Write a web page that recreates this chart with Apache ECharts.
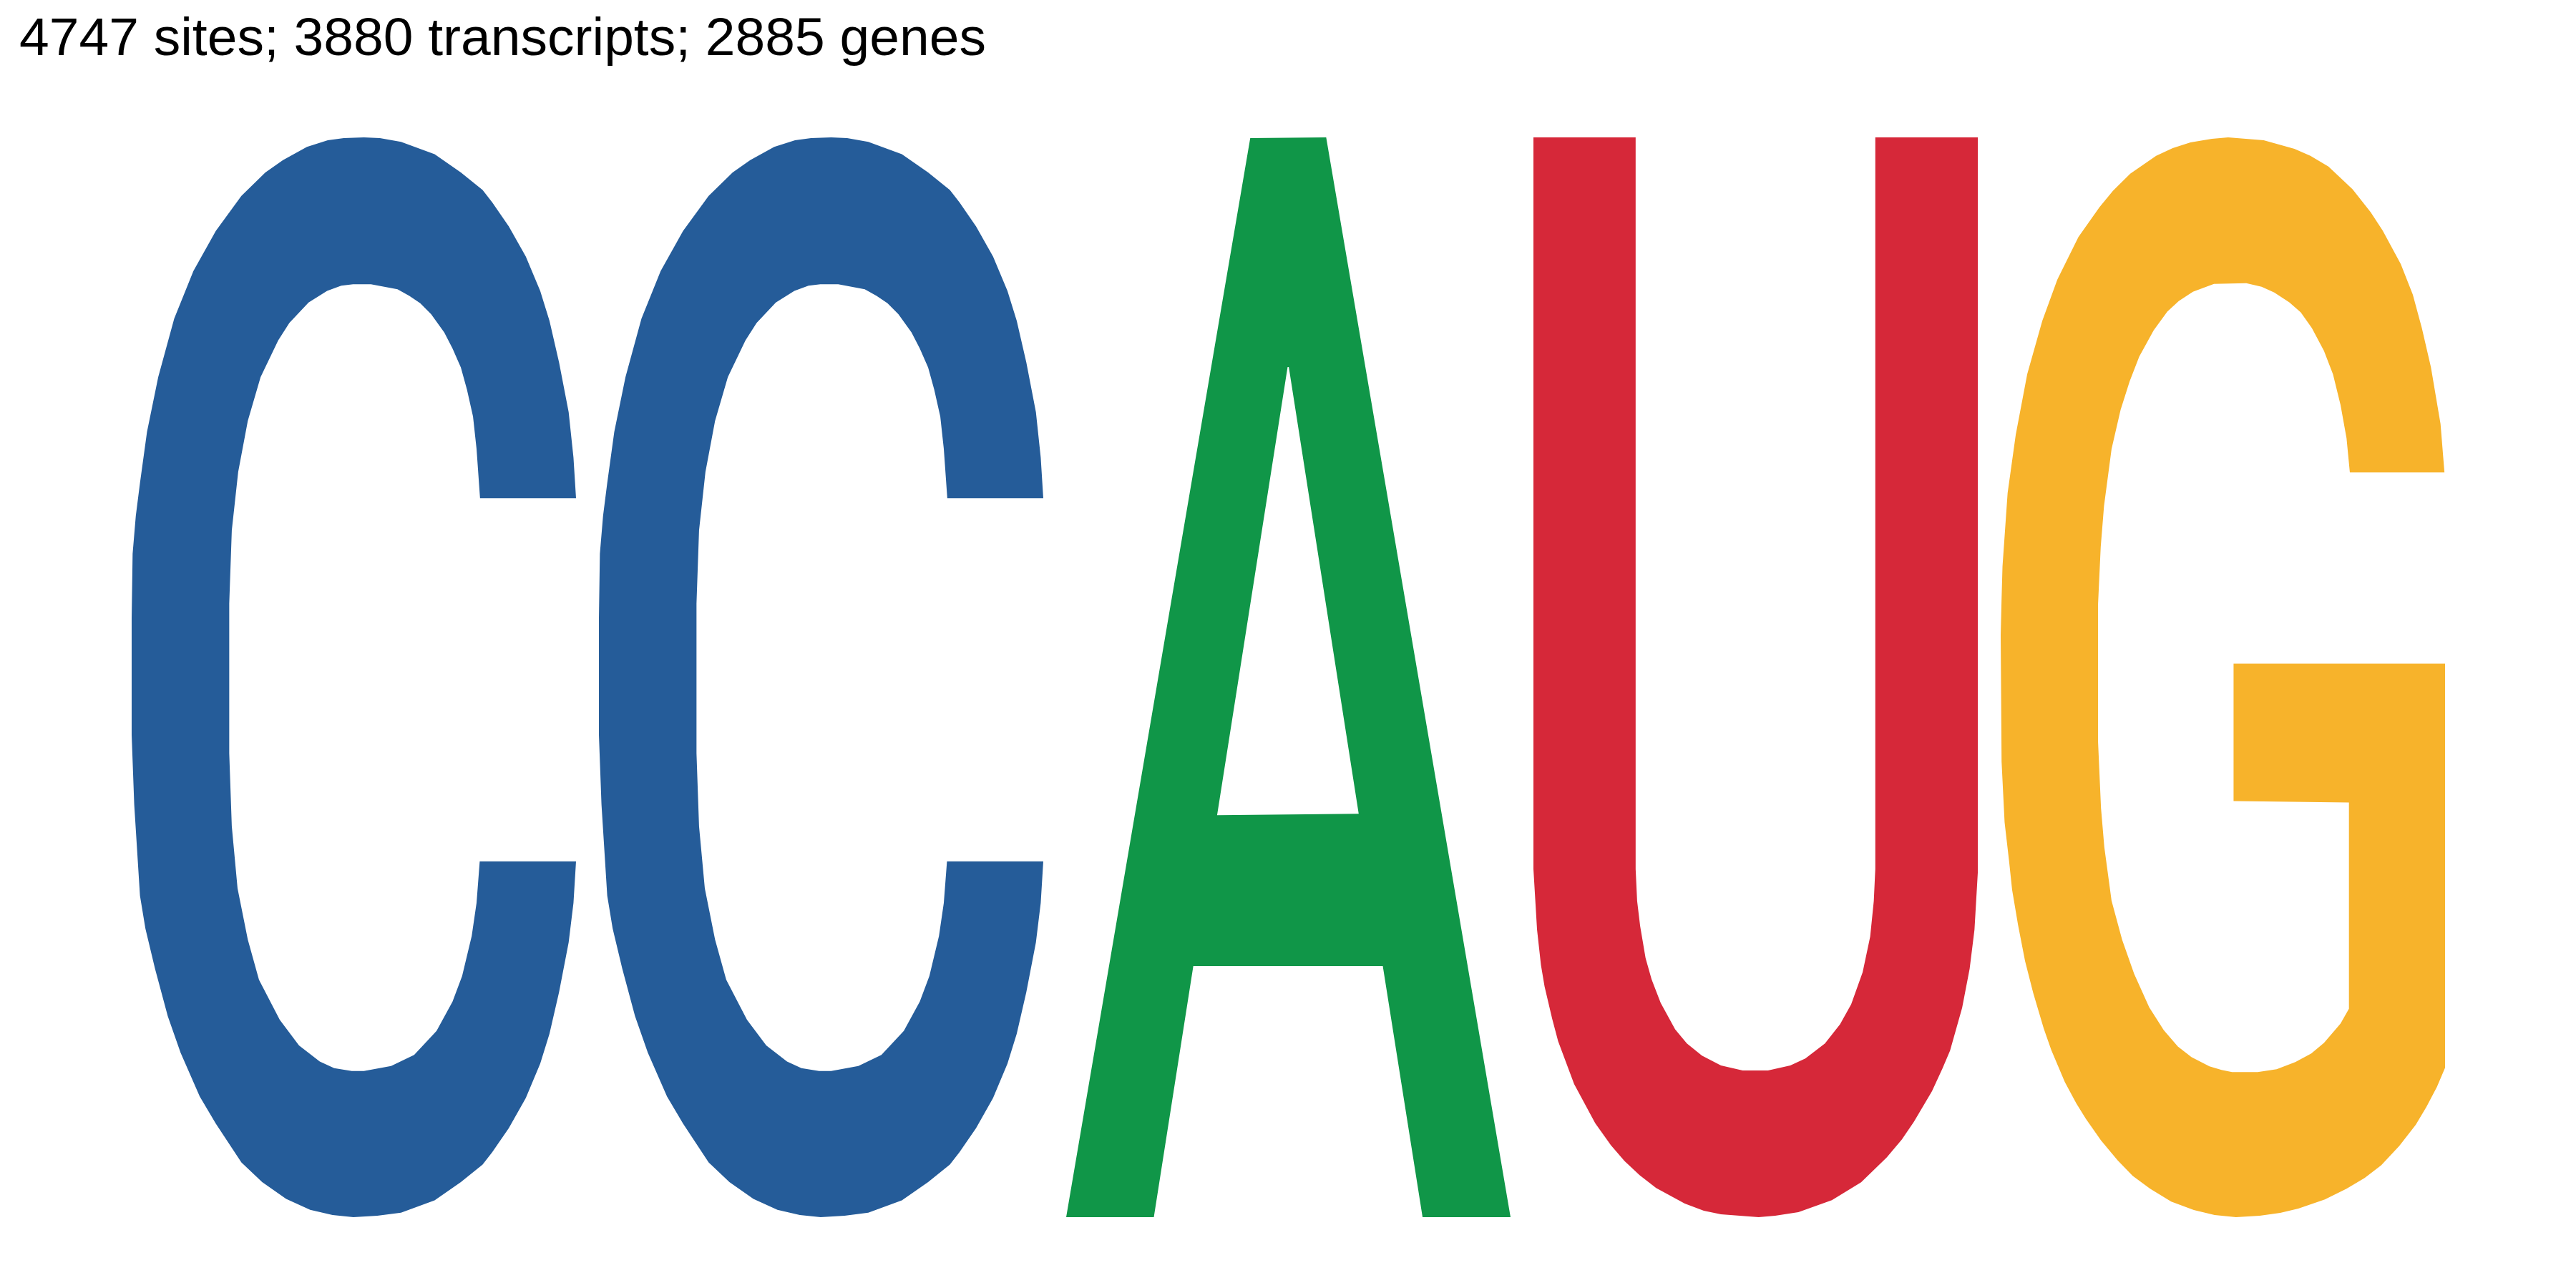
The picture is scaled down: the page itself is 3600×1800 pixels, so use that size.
<!DOCTYPE html>
<html>
<head>
<meta charset="utf-8">
<script src="https://cdn.jsdelivr.net/npm/echarts@6/dist/echarts.min.js"></script>
<style>
  html, body { margin: 0; padding: 0; background: #fff; }
  #logo { width: 3600px; height: 1800px; }
</style>
</head>
<body>
<div id="logo"></div>
<script>
// sequence logo data (probability per position)
var positions = [1, 2, 3, 4, 5];
var letters = ["C", "C", "A", "U", "G"];
var probs = [1, 1, 1, 1, 1];
var titleText = "4747 sites; 3880 transcripts; 2885 genes";

// nucleotide colours
var colors = { A: "#109648", C: "#255C99", G: "#F7B32B", U: "#D62839" };

// glyph outlines, stretched to the letter box when drawn
function poly(pts) {
  var s = "";
  for (var i = 0; i < pts.length; i += 2) {
    s += (i === 0 ? "M" : "L") + pts[i] + "," + pts[i + 1];
  }
  return s + "Z";
}

var glyphs = {
  C: poly([803,42, 853,43, 919,48, 1024,65, 1106,90, 1174,114, 1204,131, 1256,164, 1309,205, 1354,252, 1383,293,
    1413,350, 1443,418, 1458,480, 1466,536,
    1166,536, 1155,468, 1144,424, 1125,387, 1106,357, 1080,331, 1054,309, 1013,284, 979,269, 945,259, 908,250,
    825,243, 769,243, 732,245, 688,252,
    630,268, 570,296, 535,320, 480,370, 440,430, 410,500, 390,580, 382,680, 382,885, 390,985, 408,1070, 440,1140,
    475,1195, 540,1250, 600,1285, 665,1307, 710,1316, 765,1320, 803,1320, 888,1313, 960,1298, 1030,1265, 1080,1225,
    1110,1190, 1140,1135, 1155,1090, 1165,1033,
    1466,1033, 1458,1090, 1443,1144, 1413,1212, 1383,1269, 1354,1310, 1309,1357, 1256,1398, 1204,1431, 1174,1448,
    1106,1472, 1024,1497, 919,1514, 845,1518, 770,1520,
    705,1517, 635,1510, 560,1495, 485,1472, 420,1445, 340,1392, 290,1355, 230,1295, 190,1245, 150,1180, 120,1125,
    103,1080, 85,955, 77,860, 77,700, 80,612, 90,560, 103,515, 125,445, 160,370, 210,290, 270,225, 340,170, 420,122,
    495,90, 550,73, 625,55, 690,46, 740,43]),
  A: poly([22,1540, 633,23, 885,22, 1497,1540, 1205,1540, 1073,1187, 444,1187, 313,1540]) +
     poly([523,975, 993,973, 761,345, 757,345]),
  U: poly([18,22, 357,22, 357,1050, 362,1095, 372,1130, 390,1175, 410,1205, 440,1238, 488,1275, 527,1295, 577,1312,
    640,1326, 712,1333, 796,1333, 870,1326, 920,1316, 985,1295, 1035,1268, 1072,1240, 1110,1195, 1135,1145,
    1147,1095, 1152,1050, 1152,22, 1492,22, 1492,1055, 1481,1135, 1465,1190, 1440,1245, 1400,1305, 1375,1330,
    1340,1362, 1280,1405, 1240,1430, 1190,1455, 1105,1490, 1008,1515, 897,1532, 820,1537, 765,1539, 640,1535,
    583,1530, 520,1520, 425,1498, 370,1480, 320,1460, 275,1438, 223,1407, 153,1352, 100,1292, 80,1260, 55,1215,
    43,1185, 30,1135, 18,1050]),
  G: poly([767,22, 885,26, 987,38, 1040,48, 1100,63, 1180,95, 1240,127, 1280,153, 1340,200, 1380,243, 1410,290,
    1440,345, 1460,395, 1472,425, 1485,493, 1171,493, 1160,445, 1140,398, 1115,355, 1085,322, 1045,290, 1008,268,
    970,254, 920,240, 878,232, 827,227, 720,228, 650,239, 603,252, 565,267, 520,293, 472,330, 440,365, 410,405,
    380,460, 355,540, 344,598, 335,680, 335,870, 345,965, 356,1020, 380,1095, 415,1150, 455,1198, 505,1245,
    553,1277, 600,1300, 645,1315, 705,1328, 745,1333, 780,1336, 865,1336, 928,1332, 990,1322, 1043,1310,
    1085,1295, 1140,1268, 1168,1247, 1168,957, 785,955, 785,762, 1487,762, 1487,1330, 1460,1357, 1425,1385,
    1390,1410, 1335,1440, 1275,1467, 1220,1485, 1160,1500, 1088,1515, 1000,1528, 940,1534, 872,1538, 793,1540,
    722,1537, 653,1530, 578,1518, 508,1500, 450,1482, 400,1460, 345,1432, 295,1402, 263,1380, 225,1350,
    180,1305, 155,1275, 120,1225, 93,1180, 70,1130, 50,1080, 40,1040, 25,985, 15,900, 12,722, 15,670, 18,625,
    35,522, 62,440, 100,355, 150,280, 200,222, 270,162, 340,120, 385,97, 442,73, 528,48, 583,37, 642,29, 713,24])
};

var halfWidth = 0.4755;

var myChart = echarts.init(document.getElementById("logo"));

var option = {
  animation: false,
  backgroundColor: "#ffffff",
  title: {
    text: titleText,
    left: 22,
    top: 14,
    textStyle: {
      fontFamily: "Liberation Sans, Arial, Helvetica, sans-serif",
      fontSize: 75,
      fontWeight: "normal",
      color: "#000000"
    }
  },
  grid: { left: 168, right: 167, top: 192, bottom: 99 },
  xAxis: { type: "value", min: 0.5, max: 5.5, show: false },
  yAxis: { type: "value", min: 0, max: 1, show: false },
  series: [
    {
      type: "custom",
      data: positions.map(function (p, i) { return [p, probs[i]]; }),
      renderItem: function (params, api) {
        var letter = letters[params.dataIndex];
        var x = api.value(0);
        var p0 = api.coord([x - halfWidth, api.value(1)]);
        var p1 = api.coord([x + halfWidth, 0]);
        return {
          type: "path",
          shape: {
            pathData: glyphs[letter],
            x: p0[0],
            y: p0[1],
            width: p1[0] - p0[0],
            height: p1[1] - p0[1],
            layout: "cover"
          },
          style: { fill: colors[letter] }
        };
      }
    }
  ]
};

myChart.setOption(option);
</script>
</body>
</html>
